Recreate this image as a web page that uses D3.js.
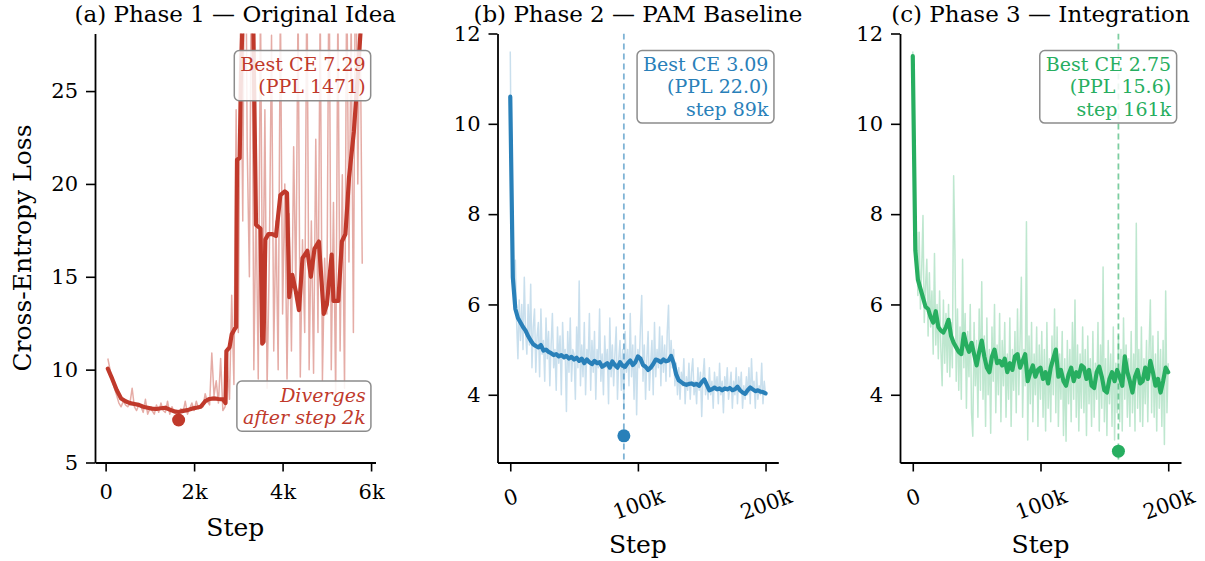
<!DOCTYPE html>
<html>
<head>
<meta charset="utf-8">
<script src="https://cdn.jsdelivr.net/npm/d3@7"></script>
<style>
    body { margin: 0; background: #fff; }
    svg text { font-family: "DejaVu Serif", serif; }
</style>
</head>
<body>
<svg id="chart" width="1205" height="561"></svg>
<script>
// ---- Phase 1 (original idea) : raw loss every 50 steps, starting at step 50
var p1RawEvery = 50;
var p1Raw = [
    10.6, 10.0, 9.4, 9.0, 8.6, 8.2, 8.0, 8.3, 8.1, 8.0,
    8.2, 9.0, 8.0, 7.8, 8.1, 8.0, 7.7, 8.4, 7.6, 7.9,
    7.8, 7.6, 8.1, 7.7, 8.2, 7.8, 7.7, 8.3, 7.6, 8.0,
    7.7, 7.6, 7.4, 7.9, 7.7, 8.3, 7.6, 7.9, 8.2, 7.8,
    8.3, 7.9, 8.1, 8.0, 8.7, 8.3, 8.1, 10.9, 8.6, 9.4,
    8.2, 10.6, 7.8, 8.0, 10.5, 8.4, 14.0, 9.2, 24.0, 12.0,
    30, 18, 40, 22, 15, 35, 10, 19, 9.5, 30,
    12, 24, 9, 16, 28, 11, 18, 10, 30, 13,
    20, 9.5, 18.4, 11, 22, 14, 30, 9.6, 17, 12,
    32, 10, 18, 9.8, 22.4, 12, 30, 9.4, 16, 13,
    33, 10, 19, 8.5, 30, 11, 20.5, 9, 32, 15.8,
    29, 12, 35, 20, 30, 15.7
];
// smoothed curve (steps / values)
var p1SmoothSteps = [
    50, 150, 250, 350, 450, 550, 650, 750, 850, 950,
    1050, 1150, 1250, 1350, 1450, 1550, 1650, 1750, 1850, 1950,
    2050, 2150, 2250, 2350, 2450, 2550, 2650, 2710, 2730, 2800,
    2850, 2920, 2950, 2970, 3030, 3060, 3150, 3250, 3330, 3400,
    3500, 3540, 3570, 3610, 3680, 3770, 3850, 3950, 4050, 4100,
    4150, 4220, 4300, 4370, 4450, 4560, 4640, 4720, 4820, 4930,
    5000, 5110, 5150, 5260, 5340, 5420, 5470, 5500, 5610, 5690,
    5770, 5850
];
var p1Smooth = [
    10.05, 9.5, 8.9, 8.45, 8.3, 8.2, 8.15, 8.1, 8.0, 7.95,
    7.9, 7.88, 7.92, 7.95, 7.85, 7.75, 7.72, 7.78, 7.82, 7.9,
    7.95, 8.0, 8.3, 8.42, 8.45, 8.42, 8.4, 8.2, 11.0, 11.2,
    11.9, 12.2, 12.3, 21.3, 21.4, 26, 33, 34, 30, 17.8,
    17.6, 11.4, 11.5, 17.0, 17.3, 17.3, 17.2, 19.4, 19.6, 19.5,
    13.9, 15.1, 14.2, 13.2, 16.0, 16.4, 15.0, 16.5, 16.9, 13.0,
    13.5, 16.2, 13.7, 13.7, 16.9, 17.3, 19.1, 20.3, 22.8, 25.5,
    28.5, 31
];
var p1Best = {step: 1650, ce: 7.29, ppl: "1471"};

// ---- Phase 2 (PAM baseline) : raw every 1k steps, smoothed every 2k steps
var p2RawEvery = 1000;
var p2Raw = [
    11.6, 8.2, 6.5, 6.1, 6.98, 5.6, 4.8, 6.1, 5.2, 6.0,
    5.0, 6.6, 5.4, 4.9, 6.0, 5.1, 6.45, 4.6, 5.5, 5.9,
    4.5, 5.3, 5.6, 4.4, 5.9, 4.9, 5.2, 4.3, 5.7, 4.8,
    5.4, 4.2, 5.1, 5.8, 4.6, 5.0, 4.1, 5.5, 4.7, 5.3,
    4.0, 5.6, 4.8, 5.0, 3.63, 5.4, 4.5, 5.7, 4.3, 5.0,
    4.9, 3.9, 5.5, 4.6, 6.52, 4.2, 5.1, 4.4, 5.6, 4.0,
    5.0, 4.7, 5.8, 4.1, 5.2, 4.5, 5.4, 3.9, 5.0, 4.6,
    5.9, 4.3, 4.9, 4.0, 5.3, 4.6, 5.0, 3.8, 5.7, 4.4,
    5.1, 4.2, 4.9, 5.5, 3.9, 4.8, 5.2, 4.1, 5.0, 3.7,
    5.4, 4.5, 5.0, 4.2, 5.8, 4.4, 5.1, 3.9, 5.3, 3.56,
    5.0, 4.6, 5.5, 6.2, 4.3, 5.1, 3.9, 4.8, 5.4, 4.1,
    4.7, 5.2, 4.0, 5.6, 4.4, 5.0, 4.6, 5.5, 4.2, 5.3,
    4.5, 5.1, 4.3, 5.4, 5.98, 4.4, 5.2, 4.6, 5.0, 4.2,
    4.7, 4.0, 4.6, 3.9, 4.5, 4.2, 4.8, 3.8, 4.4, 4.1,
    4.7, 3.9, 4.5, 4.8, 4.0, 4.3, 3.8, 4.6, 4.1, 4.5,
    3.52, 4.4, 4.8, 4.0, 4.3, 3.9, 4.6, 4.0, 4.3, 3.7,
    4.5, 4.1, 4.4, 3.8, 4.7, 4.0, 4.3, 3.6, 4.4, 4.1,
    4.6, 3.9, 4.2, 4.5, 3.7, 4.3, 4.0, 4.6, 3.8, 4.4,
    4.1, 4.5, 3.7, 4.2, 3.9, 4.4, 4.0, 4.6, 3.8, 4.8,
    4.1, 4.3, 3.7, 4.5, 3.9, 4.2, 4.0, 4.7, 3.8, 4.3,
    4.0
];
var p2SmoothEvery = 2000;
var p2Smooth = [
    10.6, 6.6, 5.9, 5.7, 5.6, 5.5, 5.42, 5.3, 5.2, 5.12,
    5.08, 5.05, 5.1, 4.98, 5.0, 4.95, 4.92, 4.88, 4.9, 4.85,
    4.88, 4.83, 4.86, 4.8, 4.84, 4.78, 4.82, 4.75, 4.8, 4.7,
    4.78, 4.72, 4.68, 4.75, 4.7, 4.72, 4.62, 4.66, 4.7, 4.6,
    4.74, 4.66, 4.6, 4.72, 4.64, 4.62, 4.7, 4.76, 4.66, 4.72,
    4.85, 4.8, 4.66, 4.62, 4.55, 4.6, 4.68, 4.78, 4.76, 4.72,
    4.78, 4.74, 4.76, 4.86, 4.7, 4.45, 4.32, 4.28, 4.24, 4.22,
    4.24, 4.25, 4.22, 4.24, 4.2, 4.28, 4.34, 4.22, 4.1, 4.12,
    4.16, 4.12, 4.14, 4.1, 4.14, 4.12, 4.15, 4.1, 4.12, 4.18,
    4.1, 4.05, 4.02, 4.1, 4.16, 4.12, 4.08, 4.1, 4.07, 4.06,
    4.03
];
var p2Best = {step: 89000, ce: 3.09, ppl: "22.0", label: "89k"};

// ---- Phase 3 (integration)
var p3RawEvery = 1000;
var p3Raw = [
    11.6, 9.0, 7.0, 7.6, 6.2, 7.6, 5.9, 6.8, 7.97, 5.6,
    6.4, 7.0, 5.3, 6.7, 5.5, 6.3, 4.9, 7.13, 5.1, 6.0,
    4.8, 6.3, 5.0, 4.2, 6.1, 4.7, 5.8, 4.5, 6.0, 4.4,
    5.6, 4.6, 8.85, 7.2, 4.3, 5.9, 4.1, 5.5, 3.9, 7.0,
    4.6, 5.8, 3.7, 5.4, 4.4, 6.0, 3.6, 3.08, 5.6, 4.2,
    5.2, 3.5, 5.9, 4.1, 6.5, 3.9, 5.3, 3.3, 5.7, 4.0,
    5.0, 3.15, 5.5, 4.3, 6.0, 3.6, 5.1, 4.0, 5.8, 3.4,
    5.2, 4.2, 5.6, 3.5, 4.9, 3.9, 5.7, 3.3, 5.0, 4.1,
    5.4, 3.6, 5.9, 4.0, 5.2, 6.6, 3.5, 5.0, 4.2, 7.83,
    3.0, 5.3, 3.8, 5.6, 3.4, 4.9, 4.0, 5.5, 3.3, 5.1,
    3.9, 5.4, 3.5, 5.0, 3.2, 5.6, 3.7, 4.8, 3.4, 5.3,
    4.0, 5.9, 3.6, 5.5, 3.3, 4.9, 3.9, 5.4, 3.1, 4.8,
    2.97, 5.2, 3.8, 5.0, 3.4, 5.6, 3.9, 6.1, 3.5, 5.1,
    3.2, 4.9, 3.7, 5.5, 3.6, 5.0, 3.1, 5.3, 3.8, 4.8,
    3.3, 5.4, 3.5, 4.7, 3.9, 5.6, 3.2, 5.1, 3.7, 6.83,
    3.4, 4.8, 3.1, 5.2, 3.8, 4.9, 3.3, 5.5, 3.0, 4.7,
    3.6, 5.3, 3.4, 5.0, 3.2, 5.7, 3.9, 5.1, 3.5, 4.8,
    3.3, 5.4, 3.6, 4.9, 3.2, 7.8, 3.7, 5.0, 3.4, 5.5,
    3.3, 4.8, 3.8, 5.2, 3.4, 5.0, 6.1, 3.6, 5.3, 3.5,
    4.9, 3.2, 5.4, 3.7, 5.0, 3.3, 5.2, 2.9, 6.3, 3.6,
    4.7
];
var p3SmoothEvery = 2000;
var p3Smooth = [
    11.5, 7.2, 6.55, 6.35, 6.15, 5.95, 5.9, 5.72, 5.6, 5.85,
    5.5, 5.42, 5.38, 5.5, 5.66, 5.3, 5.15, 5.05, 4.95, 4.9,
    5.35, 5.1, 4.95, 5.15, 4.9, 4.65, 4.95, 5.2, 4.85, 4.6,
    4.5, 4.85, 5.0, 4.7, 4.75, 4.65, 4.8, 4.5, 4.7, 4.55,
    4.85, 4.9, 4.6, 4.75, 4.9, 4.3, 4.5, 4.65, 4.4, 4.55,
    4.6, 4.35, 4.5, 4.25, 4.6, 4.8, 5.0, 4.4, 4.55, 4.3,
    4.2, 4.45, 4.6, 4.3, 4.5, 4.4, 4.65, 4.6, 4.35, 4.55,
    4.2, 4.15, 4.5, 4.62, 4.4, 4.1, 4.05, 4.35, 4.5, 4.3,
    4.55, 4.4, 4.2, 4.85, 4.5, 4.3, 4.05, 4.4, 4.55, 4.25,
    4.3, 4.6, 4.35, 4.75, 4.5, 4.2, 4.35, 4.05, 4.3, 4.6,
    4.5
];
var p3Best = {step: 161000, ce: 2.75, ppl: "15.6", label: "161k"};

var p1Ticks = {x: [0, 2000, 4000, 6000], y: [5, 10, 15, 20, 25]};
var p23Ticks = {x: [0, 100000, 200000], y: [4, 6, 8, 10, 12]};

var colors = {red: "#c0392b", blue: "#2980b9", green: "#27ae60"};

var svg = d3.select("#chart");
var plotTop = 33.5, plotBottom = 462.5;
var tickFont = 21, annFont = 19;

function kFormat(v) {
    return v === 0 ? "0" : (v / 1000) + "k";
}

function drawPanel(p) {
    var x = d3.scaleLinear().domain(p.xDomain).range([p.left, p.right]);
    var y = d3.scaleLinear().domain(p.yDomain).range([plotBottom, plotTop]);

    svg.append("clipPath").attr("id", "clip-" + p.id)
        .append("rect")
        .attr("x", p.left).attr("y", plotTop)
        .attr("width", p.right - p.left).attr("height", plotBottom - plotTop);

    var g = svg.append("g");
    var plot = g.append("g").attr("clip-path", "url(#clip-" + p.id + ")");
    var line = d3.line().x(function (d) { return x(d[0]); }).y(function (d) { return y(d[1]); });

    // raw (faint) then smoothed (thick)
    plot.append("path").datum(p.raw).attr("d", line)
        .attr("fill", "none").attr("stroke", p.color)
        .attr("stroke-opacity", p.rawOpacity).attr("stroke-width", 1.5)
        .attr("stroke-linejoin", "round");
    plot.append("path").datum(p.smooth).attr("d", line)
        .attr("fill", "none").attr("stroke", p.color)
        .attr("stroke-width", 4.2).attr("stroke-linejoin", "round").attr("stroke-linecap", "round");

    if (p.vline) {
        plot.append("line")
            .attr("x1", x(p.best.step)).attr("x2", x(p.best.step))
            .attr("y1", plotTop).attr("y2", plotBottom)
            .attr("stroke", p.color).attr("stroke-opacity", 0.6)
            .attr("stroke-width", 1.8).attr("stroke-dasharray", "6,4");
    }
    g.append("circle")
        .attr("cx", x(p.best.step)).attr("cy", y(p.best.ce)).attr("r", 6.5)
        .attr("fill", p.color);

    // axes
    var ya = g.append("g").attr("transform", "translate(" + p.left + ",0)")
        .call(d3.axisLeft(y).tickValues(p.ticks.y).tickSize(9).tickPadding(8).tickSizeOuter(0));
    var xa = g.append("g").attr("transform", "translate(0," + plotBottom + ")")
        .call(d3.axisBottom(x).tickValues(p.ticks.x).tickFormat(kFormat).tickSize(9).tickPadding(13).tickSizeOuter(0));
    [ya, xa].forEach(function (a) {
        a.select(".domain").attr("stroke", "#000").attr("stroke-width", 1.8);
        a.selectAll(".tick line").attr("stroke", "#000").attr("stroke-width", 1.6);
        a.selectAll(".tick text").attr("fill", "#000")
            .style("font-size", tickFont + "px").style("font-family", "DejaVu Serif");
    });
    if (p.rotateX) {
        var ang = 20 * Math.PI / 180;
        xa.selectAll(".tick text").each(function () {
            var w = this.getComputedTextLength();
            var h = tickFont * 0.73;
            var half = (w * Math.sin(ang) + h * Math.cos(ang)) / 2;
            d3.select(this).attr("y", 0).attr("dy", "0.36em").attr("text-anchor", "middle")
                .attr("transform", "translate(0," + (25 + half) + ") rotate(-20)");
        });
    }

    // title + x label
    g.append("text").attr("x", (p.left + p.right) / 2).attr("y", 22)
        .attr("text-anchor", "middle").style("font-size", "23px").text(p.title);
    g.append("text").attr("x", (p.left + p.right) / 2).attr("y", p.xLabelY)
        .attr("text-anchor", "middle").style("font-size", "25px").text("Step");

    // annotation boxes
    p.notes.forEach(function (n) {
        var box = g.append("g");
        var rect = box.append("rect");
        var t = box.append("text").attr("text-anchor", "end")
            .style("font-size", annFont + "px").attr("fill", p.color)
            .style("font-style", n.italic ? "italic" : "normal");
        n.lines.forEach(function (s, i) {
            t.append("tspan").attr("x", p.left + 0.965 * (p.right - p.left))
                .attr("y", n.firstBaseline + i * 22.3).text(s);
        });
        var bb = t.node().getBBox();
        rect.attr("x", bb.x - 6).attr("y", bb.y - 2.5)
            .attr("width", bb.width + 11).attr("height", bb.height + 6)
            .attr("rx", 5).attr("fill", "#fff").attr("fill-opacity", 0.85)
            .attr("stroke", "#8c8c8c").attr("stroke-width", 1.5);
    });
}

drawPanel({
    id: "a", title: "(a) Phase 1 \u2014 Original Idea", color: colors.red, rawOpacity: 0.42,
    left: 95, right: 375.5, xDomain: [-240, 6100], yDomain: [5, 28.1],
    raw: p1Raw.map(function (v, i) { return [(i + 1) * p1RawEvery, v]; }),
    smooth: p1SmoothSteps.map(function (s, i) { return [s, p1Smooth[i]]; }),
    best: p1Best, vline: false, ticks: p1Ticks, rotateX: false, xLabelY: 536,
    notes: [
        {lines: ["Best CE " + p1Best.ce.toFixed(2), "(PPL " + p1Best.ppl + ")"], firstBaseline: 71},
        {lines: ["Diverges", "after step 2k"], firstBaseline: 401.5, italic: true}
    ]
});

drawPanel({
    id: "b", title: "(b) Phase 2 \u2014 PAM Baseline", color: colors.blue, rawOpacity: 0.25,
    left: 497.5, right: 778.3, xDomain: [-10000, 210000], yDomain: [2.5, 12],
    raw: p2Raw.map(function (v, i) { return [i * p2RawEvery, v]; }),
    smooth: p2Smooth.map(function (v, i) { return [i * p2SmoothEvery, v]; }),
    best: p2Best, vline: true, ticks: p23Ticks, rotateX: true, xLabelY: 553,
    notes: [
        {lines: ["Best CE " + p2Best.ce.toFixed(2), "(PPL " + p2Best.ppl + ")", "step " + p2Best.label], firstBaseline: 71}
    ]
});

drawPanel({
    id: "c", title: "(c) Phase 3 \u2014 Integration", color: colors.green, rawOpacity: 0.3,
    left: 900, right: 1181, xDomain: [-10000, 210000], yDomain: [2.5, 12],
    raw: p3Raw.map(function (v, i) { return [i * p3RawEvery, v]; }),
    smooth: p3Smooth.map(function (v, i) { return [i * p3SmoothEvery, v]; }),
    best: p3Best, vline: true, ticks: p23Ticks, rotateX: true, xLabelY: 553,
    notes: [
        {lines: ["Best CE " + p3Best.ce.toFixed(2), "(PPL " + p3Best.ppl + ")", "step " + p3Best.label], firstBaseline: 71}
    ]
});

// shared y label
svg.append("text")
    .attr("transform", "translate(22," + ((plotTop + plotBottom) / 2) + ") rotate(-90)")
    .attr("dy", "0.35em").attr("text-anchor", "middle")
    .style("font-size", "25px").text("Cross-Entropy Loss");
</script>
</body>
</html>
